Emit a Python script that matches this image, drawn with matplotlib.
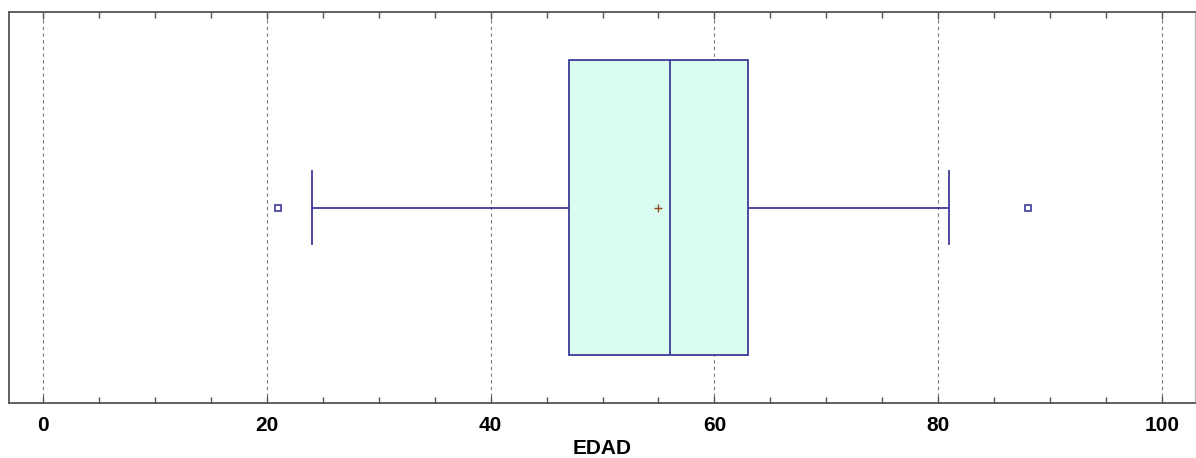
import matplotlib
matplotlib.use("Agg")
import matplotlib.pyplot as plt
from matplotlib.ticker import MultipleLocator

# Summary statistics of EDAD
whisker_low = 24
q1 = 47
median = 56
mean = 55
q3 = 63
whisker_high = 81
outliers = [21, 88]

x_ticks = [0, 20, 40, 60, 80, 100]

plt.rcParams['font.family'] = ['Liberation Sans', 'DejaVu Sans']

fig = plt.figure(figsize=(11.96, 4.58), dpi=100)
ax = fig.add_axes([0.0075, 0.12, 0.9917, 0.8537])

edge = '#3b3b98'
stats = [{
    'whislo': whisker_low, 'q1': q1, 'med': median, 'mean': mean,
    'q3': q3, 'whishi': whisker_high, 'fliers': outliers,
}]

ax.bxp(stats, positions=[0.5], widths=0.754, capwidths=0.187,
       orientation='horizontal', patch_artist=True, showmeans=True,
       boxprops=dict(facecolor='#d9fbf0', edgecolor=edge, linewidth=1.3),
       medianprops=dict(color=edge, linewidth=1.3),
       whiskerprops=dict(color=edge, linewidth=1.3),
       capprops=dict(color=edge, linewidth=1.3),
       meanprops=dict(marker='+', markeredgecolor='#8b4a1a', markersize=6,
                      markeredgewidth=1.0),
       flierprops=dict(marker='s', markerfacecolor='none',
                       markeredgecolor=edge, markersize=5,
                       markeredgewidth=1.2),
       zorder=3)

ax.set_xlim(-3.04, 102.95)
ax.set_ylim(0, 1)
ax.set_yticks([])
ax.set_xticks(x_ticks)
ax.set_xticklabels([str(t) for t in x_ticks], fontsize=15, fontweight='bold')
ax.xaxis.set_minor_locator(MultipleLocator(5))
ax.tick_params(axis='x', which='major', direction='in', length=5, width=1,
               top=True, pad=9, colors='#555555', labelcolor='black')
ax.tick_params(axis='x', which='minor', direction='in', length=4, width=1,
               top=True, colors='#555555')
ax.grid(axis='x', which='major', linestyle=(0, (3, 3)), color='#777777',
        linewidth=0.8, zorder=0)
for side in ['left', 'bottom', 'top']:
    ax.spines[side].set_color('#555555')
    ax.spines[side].set_linewidth(1.3)
ax.spines['right'].set_color('#bbbbbb')
ax.spines['right'].set_linewidth(1.0)

ax.set_xlabel('EDAD', fontsize=15, fontweight='bold', labelpad=3)

fig.savefig('out.png', dpi=100)
